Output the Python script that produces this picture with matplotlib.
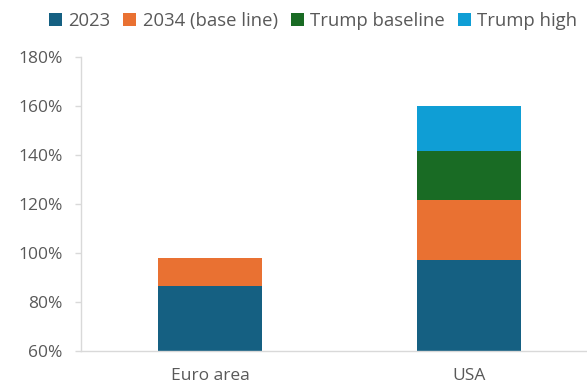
import numpy as np
import matplotlib.pyplot as plt

plt.rcParams['font.family'] = ['Open Sans', 'DejaVu Sans']

categories = ['Euro area', 'USA']
series = ['2023', '2034 (base line)', 'Trump baseline', 'Trump high']
# cumulative debt level (% of GDP) at the top of each stacked segment
level_2023 = [86.7, 97.1]
level_2034 = [98.1, 121.8]
level_trump_base = [np.nan, 141.6]
level_trump_high = [np.nan, 160.1]
colors = ['#156082', '#E97132', '#196B24', '#0F9ED5']
yticks = [60, 80, 100, 120, 140, 160, 180]

levels = [level_2023, level_2034, level_trump_base, level_trump_high]

fig = plt.figure(figsize=(5.87, 3.83), dpi=100)
ax = fig.add_axes([80.7 / 587, 1 - 351 / 383, 518 / 587, (351 - 57) / 383])

x = np.arange(len(categories))
prev = np.zeros(len(categories))
for name, lev, c in zip(series, levels, colors):
    lev = np.array(lev, dtype=float)
    h = np.where(np.isnan(lev), 0, lev - prev)
    ax.bar(x, h, bottom=prev, width=0.4, color=c, label=name)
    prev = np.where(np.isnan(lev), prev, lev)

ax.set_ylim(60, 180)
ax.set_xlim(-0.5, 1.5)
ax.set_yticks(yticks)
ax.set_yticklabels([f'{v}%' for v in yticks])
ax.set_xticks(x)
ax.set_xticklabels(categories)

for s in ['top', 'right']:
    ax.spines[s].set_visible(False)
for s in ['left', 'bottom']:
    ax.spines[s].set_color('#d9d9d9')
    ax.spines[s].set_linewidth(1)
ax.tick_params(axis='y', colors='#d9d9d9', labelcolor='#595959', labelsize=12.5,
               length=4.5, width=1, pad=8.5)
ax.tick_params(axis='x', length=0, labelcolor='#595959', labelsize=12.5, pad=12)

fig.legend(loc='upper center', bbox_to_anchor=(313 / 587, 1.0), ncol=4, frameon=False,
           fontsize=13.3, handlelength=0.7, handleheight=0.7, handletextpad=0.35,
           columnspacing=0.7, labelcolor='#595959', borderaxespad=0.25)

fig.savefig('out.png', dpi=100)
